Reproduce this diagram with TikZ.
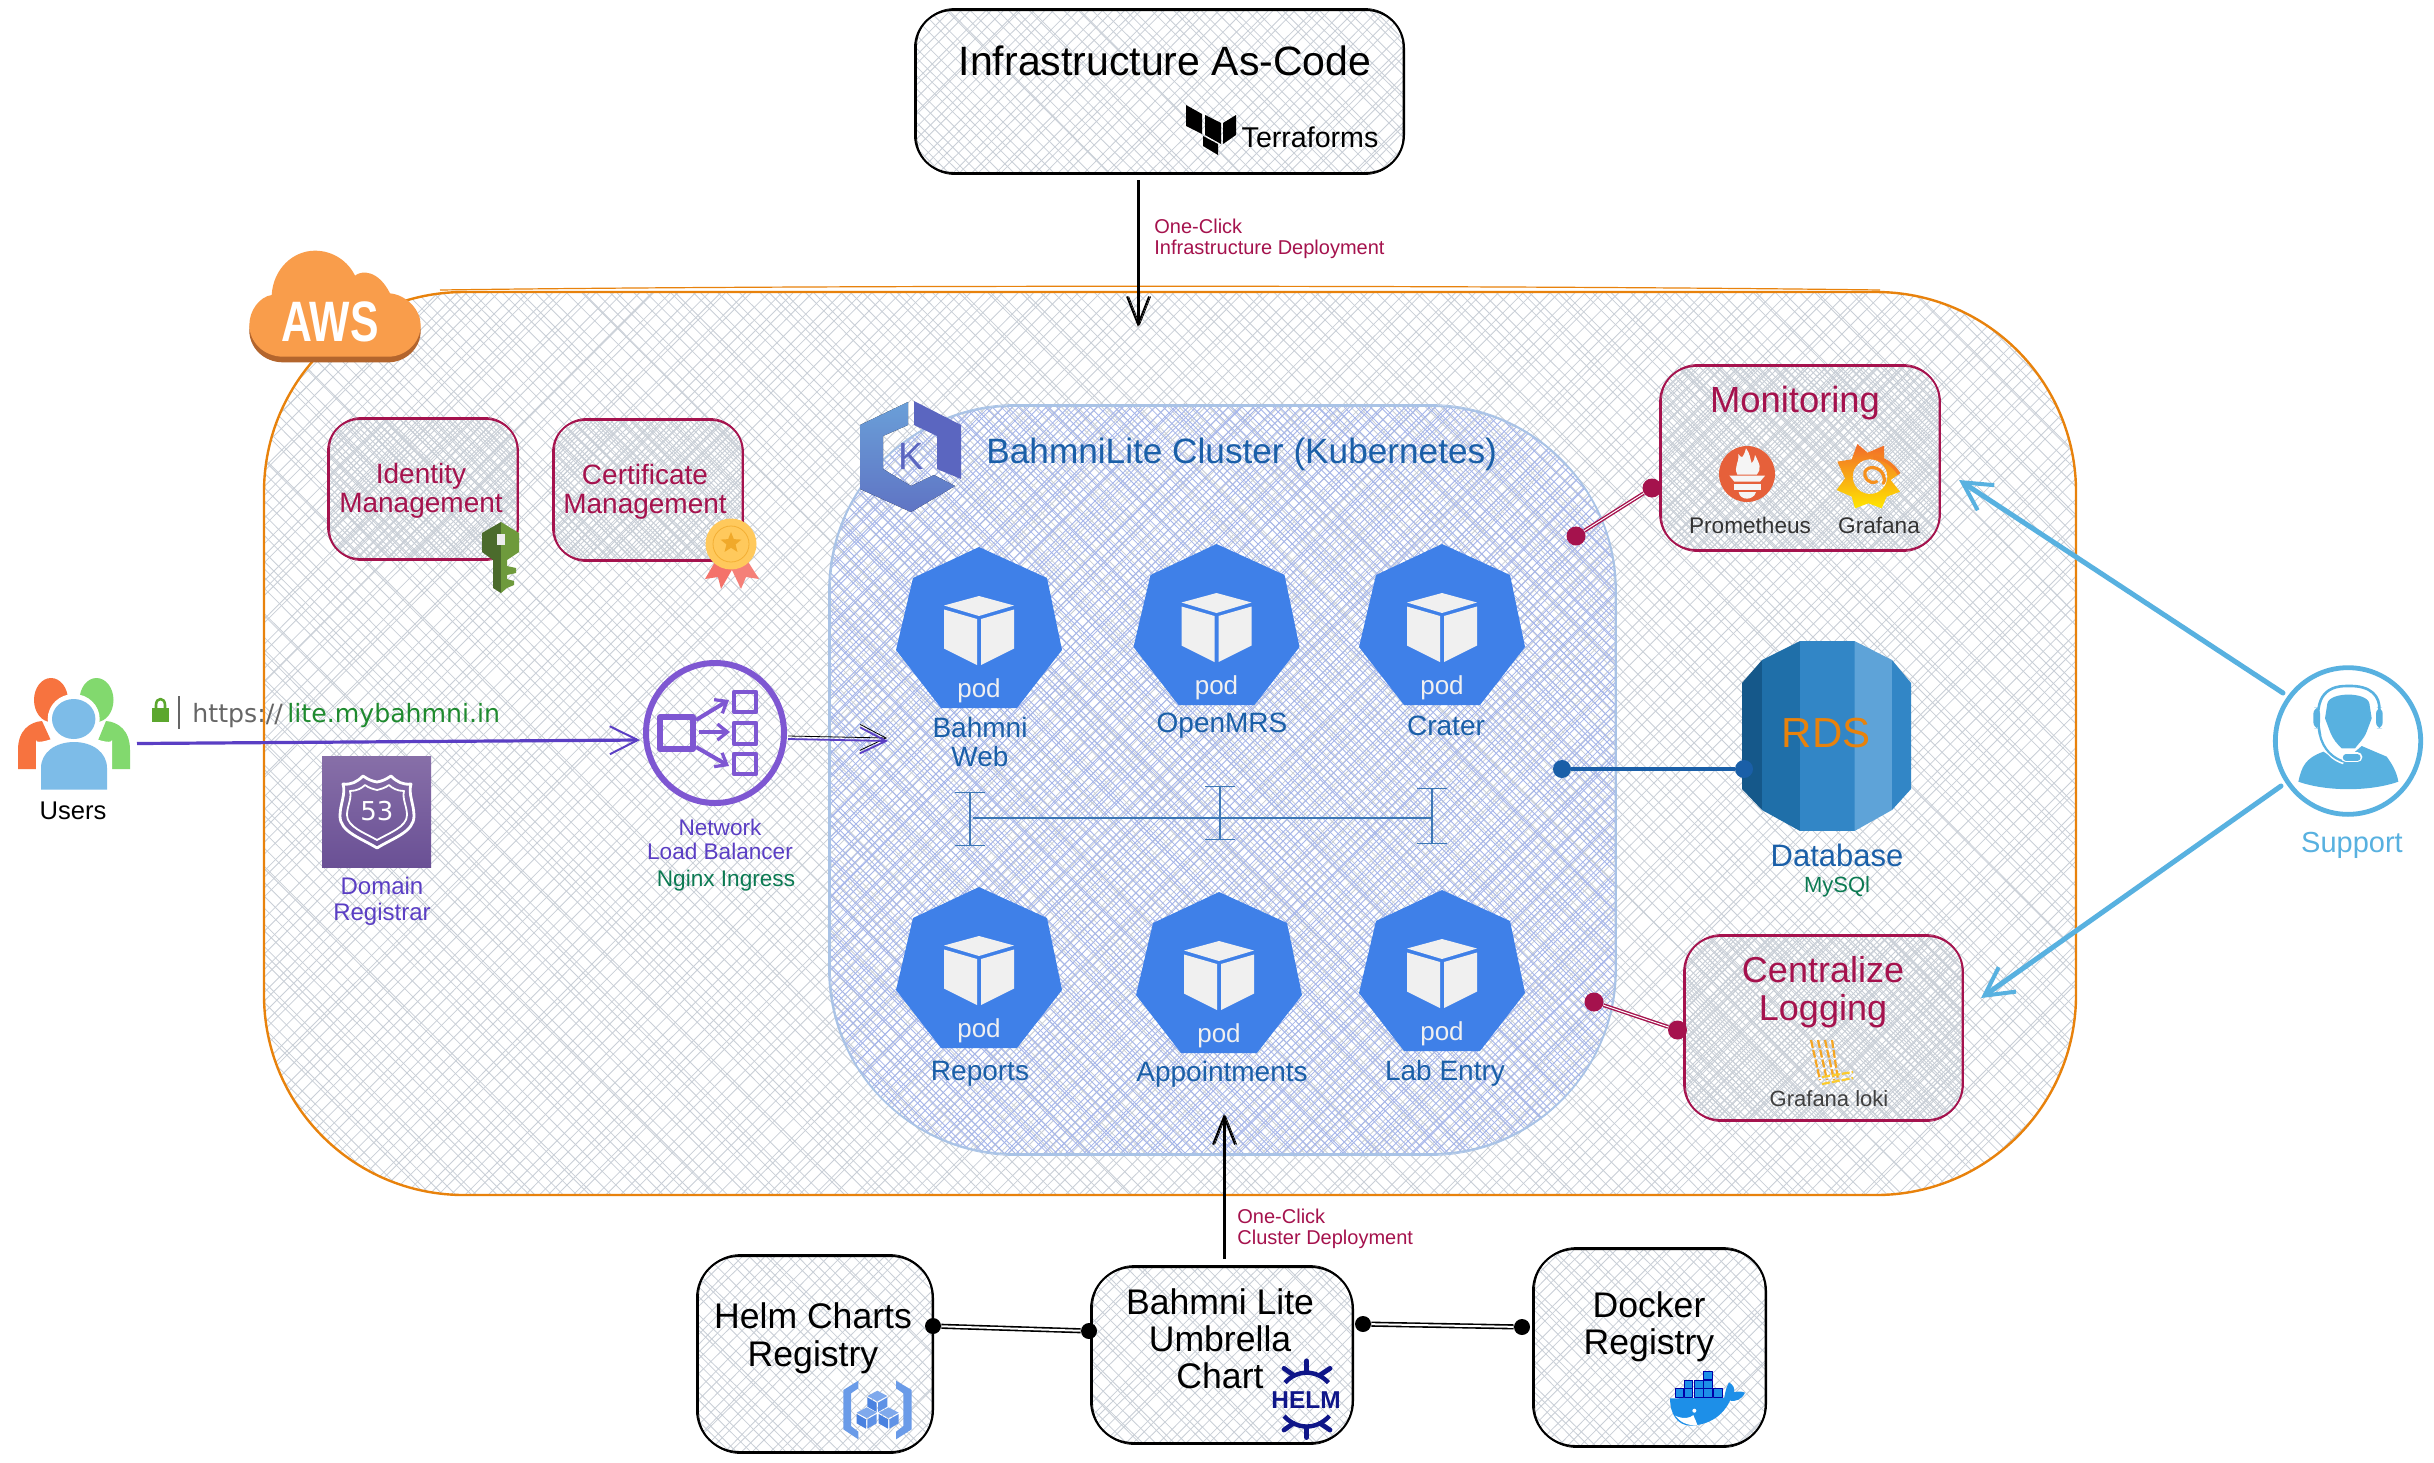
\documentclass[tikz,border=0pt]{standalone}
\usepackage{fontspec}
\setmainfont{Liberation Sans}
\newfontfamily\dvu{DejaVu Sans}
\usetikzlibrary{arrows.meta,shapes.geometric}
\definecolor{awsO}{HTML}{E8820C}
\definecolor{redc}{HTML}{A5124D}
\definecolor{bluet}{HTML}{1A5FA8}
\definecolor{purpl}{HTML}{5A3EC4}
\definecolor{nlbp}{HTML}{7E57D2}
\definecolor{greent}{HTML}{0B7A52}
\definecolor{hgray}{HTML}{C9CFD7}
\definecolor{hblue}{HTML}{A6B6EA}
\definecolor{clusb}{HTML}{A9C3E6}
\definecolor{podb}{HTML}{3F80E8}
\definecolor{podw}{HTML}{F0F0F0}
\definecolor{supb}{HTML}{58B1E0}
\definecolor{helmb}{HTML}{0F1689}
\definecolor{dockb}{HTML}{1D8FE8}
\definecolor{userso}{HTML}{F7733F}
\definecolor{usersg}{HTML}{82D96E}
\definecolor{usersb}{HTML}{7DBCE8}
\definecolor{keyd}{HTML}{4B6B2C}
\definecolor{keyl}{HTML}{6E9A3C}
\definecolor{ribba}{HTML}{F4726A}
\definecolor{ribbb}{HTML}{F58078}
\definecolor{medy}{HTML}{FFC95C}
\definecolor{meds}{HTML}{F0A92A}
\definecolor{lockg}{HTML}{5CA72E}
\definecolor{liteg}{HTML}{1E8A2E}
\definecolor{rsa}{HTML}{876FA8}
\definecolor{rsb}{HTML}{6A5095}
\definecolor{ksa}{HTML}{6A9FD8}
\definecolor{ksb}{HTML}{5F74C4}
\definecolor{ksc}{HTML}{5B66C0}
\definecolor{rdsd}{HTML}{15588A}
\definecolor{rdsk}{HTML}{1F6FA9}
\definecolor{cubet}{HTML}{7FA9EC}
\definecolor{cubel}{HTML}{4A82E0}
\definecolor{cuber}{HTML}{5F92E6}
\definecolor{lokia}{HTML}{F5A623}
\definecolor{lokib}{HTML}{FBCB2E}
\tikzset{
 lab/.style 2 args={inner sep=0pt,align=center,font=\fontsize{#1}{#2}\selectfont},
 boxn/.style={inner sep=0pt,outer sep=0pt,rectangle},
 iz/.style={x=0.16667pt,y=-0.16667pt},
 roughk/.style={preaction={draw,transform canvas={xshift=.8pt}}},
 rdot/.style={circle,fill=redc,inner sep=0pt,minimum size=9.5pt},
 kdot/.style={circle,fill=black,inner sep=0pt,minimum size=8pt},
 bdot/.style={circle,fill=bluet,inner sep=0pt,minimum size=9pt},
 kdouble/.style={draw=black,double=white,double distance=1pt,line width=.8pt},
 rdouble/.style={draw=redc,double=white,double distance=.5pt,line width=.7pt},
 supar/.style={draw=supb,line width=2.5pt,line cap=round,-{Straight Barb[length=14pt,width=15pt,line width=2pt]}},
 blackar/.style={draw=black,line width=.9pt,-{Straight Barb[length=14pt,width=11pt]}},
 purpar/.style={draw=purpl,line width=1.6pt,-{Straight Barb[length=14pt,width=14pt,line width=1pt]}},
 ibar/.style={draw=bluet!85,line width=.7pt,{Bar[width=15pt]}-{Bar[width=15pt]}},
}
\newcommand\hatchfill[8]{%
 \begin{scope}
 \clip[rounded corners=#5*0.5pt] (#1,#2) rectangle (#3,#4);
 \pgfmathtruncatemacro\hn{(#3+#4-#1-#2)/#6}
 \foreach \hi in {0,...,\hn}{
  \pgfmathsetmacro\hs{#1+#2+\hi*#6+(rnd-.5)*#6*.5}
  \pgfmathsetmacro\hja{(rnd-.5)*#6}
  \pgfmathsetmacro\hjb{(rnd-.5)*#6}
  \draw[draw=#7,line width=#8] (#1,{\hs-#1+\hja}) -- (#3,{\hs-#3+\hjb});
  \pgfmathsetmacro\hd{#1-#4+\hi*#6+(rnd-.5)*#6*.5}
  \pgfmathsetmacro\hja{(rnd-.5)*#6}
  \pgfmathsetmacro\hjb{(rnd-.5)*#6}
  \draw[draw=#7,line width=#8] (#1,{#1-\hd+\hja}) -- (#3,{#3-\hd+\hjb});
 }
 \end{scope}}
% name x1 y1 x2 y2 r colour lw
\newcommand\roughbox[8]{%
 \pgfmathsetlengthmacro\bw{(#4-#2)*0.5pt}
 \pgfmathsetlengthmacro\bh{(#5-#3)*0.5pt}
 \node[boxn,draw=#7,line width=#8,rounded corners=#6*0.5pt,minimum width=\bw,minimum height=\bh] (#1) at ({(#2+#4)/2},{(#3+#5)/2}) {};
 \draw[draw=#7,line width=.4pt,rounded corners=#6*0.5pt] ({#2+1.5},{#3-1.5}) rectangle ({#4-1},{#5+1.5});
}
\newcommand\podicon[3]{%
 \begin{scope}[shift={(#2,#3)}]
 \fill[podb] (0,0) -- (68,31) -- (83,103) -- (38,161) -- (-38,161) -- (-83,103) -- (-66,31) -- cycle;
 \fill[podw] (0,49) -- (35,58.5) -- (0,69) -- (-35,58.5) -- cycle;
 \fill[podw] (-35,62.5) -- (-2,72) -- (-2,118) -- (-35,101.5) -- cycle;
 \fill[podw] (35,62.5) -- (2,72) -- (2,118) -- (35,101.5) -- cycle;
 \node[lab={13}{15},text=podw] (#1) at (0,144) {pod};
 \end{scope}}
\newcommand\cubeicon[2]{%
 \fill[cubet] (#1,{#2-24}) -- ({#1+30},{#2-8}) -- (#1,{#2+8}) -- ({#1-30},{#2-8}) -- cycle;
 \fill[cubel] ({#1-30},{#2-4}) -- ({#1-2},{#2+12}) -- ({#1-2},{#2+40}) -- ({#1-30},{#2+24}) -- cycle;
 \fill[cuber] ({#1+30},{#2-4}) -- ({#1+2},{#2+12}) -- ({#1+2},{#2+40}) -- ({#1+30},{#2+24}) -- cycle;
}
\begin{document}
\begin{tikzpicture}[x=0.5pt,y=-0.5pt,line join=round]
\useasboundingbox (0,0) rectangle (2434,1462);
\fill[white] (0,0) rectangle (2434,1462);
\pgfmathsetseed{7}
% AWS region
\hatchfill{264}{292}{2076}{1195}{200}{12}{hgray}{.4pt}
\pgfmathsetlengthmacro\bw{906pt}
\pgfmathsetlengthmacro\bh{451.5pt}
\node[boxn,draw=awsO,line width=1.2pt,rounded corners=100pt,minimum width=\bw,minimum height=\bh] (aws) at (1170,743.5) {};
\draw[awsO,line width=.6pt] (440,290) .. controls (800,285) and (1500,285) .. (1880,290);
% cluster
\hatchfill{829}{406}{1616}{1154}{185}{8}{hblue}{.42pt}
\roughbox{cluster}{829}{406}{1616}{1154}{185}{clusb}{.9pt}
% AWS logo
\begin{scope}[shift={(230,230)},iz]
\definecolor{cloudd}{HTML}{B3652D}
\fill[cloudd] (125,212) .. controls (130,132) and (190,79) .. (255,79) .. controls (310,79) and (355,112) .. (375,154) .. controls (395,137) and (445,137) .. (480,207) .. controls (530,212) and (572,257) .. (572,302) .. controls (572,357) and (525,397) .. (475,397) -- (160,397) .. controls (100,397) and (58,352) .. (58,302) .. controls (58,257) and (90,217) .. (125,212) -- cycle;
\definecolor{cloudo}{HTML}{F99D4B}
\fill[cloudo] (125,195) .. controls (130,115) and (190,62) .. (255,62) .. controls (310,62) and (355,95) .. (375,137) .. controls (395,120) and (445,120) .. (480,190) .. controls (530,195) and (572,240) .. (572,285) .. controls (572,340) and (525,380) .. (475,380) -- (160,380) .. controls (100,380) and (58,335) .. (58,285) .. controls (58,240) and (90,200) .. (125,195) -- cycle;
\end{scope}
\node[lab={28.5}{30},text=white] (awsT) at (330,322) {\scalebox{.75}[1]{\bfseries AWS}};
% Infrastructure box
\hatchfill{915}{10}{1404}{173}{38}{11}{hgray}{.4pt}
\roughbox{iac}{915}{10}{1404}{173}{38}{black}{1pt}
\node[lab={20.5}{24}] (iacT) at (1165,61) {Infrastructure As-Code};
\fill (1186,105) -- (1202,114) -- (1202,134) -- (1186,126) -- cycle;
\fill (1205,115) -- (1221,123) -- (1221,144) -- (1205,135) -- cycle;
\fill (1223,123) -- (1236,115) -- (1236,135) -- (1223,144) -- cycle;
\fill (1203,136) -- (1218,144) -- (1218,155) -- (1203,146) -- cycle;
\node[lab={14.3}{17}] (tfT) at (1310,137) {Terraforms};
\coordinate (iacOut) at (1138,180);
\coordinate (iacIn) at (1138,327);
\draw[blackar,roughk] (iacOut) -- (iacIn);
\node[lab={10}{10.8},align=left,text=redc,anchor=west] (oci) at (1154,239) {One-Click\\Infrastructure Deployment};
% Identity and certificate
\hatchfill{328}{419}{518}{559}{32}{6}{hgray}{.45pt}
\roughbox{idm}{328}{419}{518}{559}{32}{redc}{.9pt}
\node[lab={14}{14.7},text=redc] (idmT) at (421,491) {Identity\\Management};
\hatchfill{553}{420}{743}{560}{32}{6}{hgray}{.45pt}
\roughbox{cem}{553}{420}{743}{560}{32}{redc}{.9pt}
\node[lab={14}{14.7},text=redc] (cemT) at (645,492) {Certificate\\Management};
% key
\fill[keyd] (501,522) -- (482,533) -- (482,552) -- (493,560) -- (493,588) -- (501,593) -- cycle;
\fill[keyl] (501,522) -- (519,533) -- (519,552) -- (507,560) -- (507,566) -- (516,568) -- (516,573) -- (507,575) -- (507,579) -- (514,581) -- (514,585) -- (507,588) -- (501,593) -- cycle;
\fill[gray!15] (497,534) rectangle (505,545);
% medal
\fill[ribba] (716,560) -- (705,579) -- (718,577) -- (721,589) -- (733,568) -- cycle;
\fill[ribbb] (747,560) -- (759,579) -- (746,577) -- (741,589) -- (731,568) -- cycle;
\fill[medy] (731,544) circle [radius=25.5];
\draw[meds!80!medy,line width=.4pt] (731,544) circle [radius=18];
\node[star,star points=5,star point ratio=2.3,fill=meds,inner sep=0pt,minimum size=11pt] (medalstar) at (731,543) {};
% users
\fill[userso] (51,700) circle [x radius=17,y radius=22];
\fill[userso] (18,769) -- (18,750) .. controls (18,730) and (30,722) .. (42,721) -- (60,760) -- (60,769) -- cycle;
\fill[usersg] (96.5,700) circle [x radius=17,y radius=22];
\fill[usersg] (130,769) -- (130,750) .. controls (130,730) and (118,722) .. (106,721) -- (90,760) -- (90,769) -- cycle;
\fill[white] (73.7,719) circle [x radius=26,y radius=25];
\fill[white,rounded corners=10pt] (36,800) -- (36,760) .. controls (36,745) and (55,738) .. (74,738) .. controls (92,738) and (112,745) .. (112,760) -- (112,800) -- cycle;
\fill[usersb] (73.7,719) circle [x radius=21.7,y radius=20];
\fill[usersb] (41,789.5) -- (41,768) .. controls (41,752) and (56,742) .. (74,742) .. controls (92,742) and (107,752) .. (107,768) -- (107,789.5) -- cycle;
\node[lab={12.8}{15}] (usersT) at (73,811) {Users};
% url
\fill[lockg] (152,708) rectangle (169,722);
\draw[lockg,line width=1.3pt] (156,708) -- (156,705) .. controls (156,697) and (165,697) .. (165,705) -- (165,708);
\draw[gray!80!black,line width=.8pt] (179,696) -- (179,729);
\node[anchor=west,inner sep=0pt,font=\dvu\fontsize{12.6}{15}\selectfont,text=gray!80!black] (url1) at (192,716) {https://};
\node[anchor=west,inner sep=0pt,font=\dvu\fontsize{12.6}{15}\selectfont,text=liteg] (url2) at (287,716) {lite.mybahmni.in};
\coordinate (usersOut) at (137,743.5);
\coordinate (nlbIn) at (640,740);
\draw[purpar] (usersOut) -- (nlbIn);
% route53
\fill[top color=rsa,bottom color=rsb] (322,756) rectangle (431,867);
\begin{scope}[shift={(377,812)},white]
\draw[line width=1.4pt] (-34,-28) .. controls (-26,-27) and (-20,-30) .. (-14,-36) .. controls (-8,-32) and (-5,-31) .. (0,-30) .. controls (5,-31) and (8,-32) .. (14,-36) .. controls (20,-30) and (26,-27) .. (34,-28) .. controls (31,-18) and (37,-8) .. (37,4) .. controls (37,20) and (16,26) .. (0,36) .. controls (-16,26) and (-37,20) .. (-37,4) .. controls (-37,-8) and (-31,-18) .. (-34,-28) -- cycle;
\draw[line width=.9pt] (-27,-21) .. controls (-20,-21) and (-15,-24) .. (-12,-27) .. controls (-8,-24) and (-4,-23) .. (0,-22) .. controls (4,-23) and (8,-24) .. (12,-27) .. controls (15,-24) and (20,-21) .. (27,-21) .. controls (25,-13) and (30,-6) .. (30,3) .. controls (30,15) and (12,21) .. (0,28) .. controls (-12,21) and (-30,15) .. (-30,3) .. controls (-30,-6) and (-25,-13) .. (-27,-21) -- cycle;
\end{scope}
\node[font=\dvu\fontsize{13}{15}\selectfont,inner sep=0pt,text=white] (r53) at (377,811) {53};
\node[lab={12}{12.8},text=purpl] (domT) at (382,901) {Domain\\ Registrar};
% NLB
\draw[nlbp,line width=3pt] (715,733) circle [x radius=69,y radius=70];
\draw[nlbp,line width=2.6pt] (660,717) rectangle (693,749);
\draw[nlbp,line width=2.2pt] (734,692) rectangle (756,712);
\draw[nlbp,line width=2.2pt] (734,723) rectangle (756,744);
\draw[nlbp,line width=2.2pt] (734,754) rectangle (756,774);
\coordinate (na) at (696,720); \coordinate (nb) at (729,700);
\coordinate (nc) at (699,732); \coordinate (nd) at (730,732);
\coordinate (ne) at (696,747); \coordinate (nf) at (729,766);
\foreach \a/\b in {na/nb,nc/nd,ne/nf} \draw[nlbp,line width=2pt,-{Straight Barb[length=5pt,width=8pt,line width=1.6pt]}] (\a) -- (\b);
\node[lab={11.3}{12},text=purpl] (nlbT) at (720,839) {Network\\Load Balancer};
\node[lab={11.3}{13},text=greent] (nginxT) at (726,881) {Nginx Ingress};
\coordinate (nlbOut) at (788,739);
\coordinate (clusIn) at (888,741);
\draw[purpl,line width=.9pt,-{Straight Barb[length=13pt,width=13pt]},preaction={draw,transform canvas={yshift=1.5pt}}] (nlbOut) -- (clusIn);
% k8s
\fill[top color=ksa,bottom color=ksb] (908,402) -- (908,425) -- (883,436) -- (883,469) -- (911,486) -- (934,475) -- (955,486) -- (911,512) -- (860,489) -- (860,425) -- cycle;
\fill[ksc] (914,401) -- (961,425) -- (961,479) -- (937,469) -- (937,436) -- (914,425) -- cycle;
\node[lab={19}{21},text=ksc] (kT) at (911,456) {K};
\node[lab={17.6}{20},text=bluet,anchor=west] (clusT) at (986,454) {BahmniLite Cluster (Kubernetes)};
% pods
\podicon{p1}{979}{547}
\podicon{p2}{1216.5}{544}
\podicon{p3}{1442}{544}
\podicon{p4}{979}{887}
\podicon{p5}{1219}{892}
\podicon{p6}{1442}{890}
\node[lab={14}{14.6},text=bluet] (l1) at (980,742) {Bahmni\\Web};
\node[lab={14}{16},text=bluet] (l2) at (1222,726) {OpenMRS};
\node[lab={14}{16},text=bluet] (l3) at (1446,726) {Crater};
\node[lab={14}{16},text=bluet] (l4) at (980,1073.5) {Reports};
\node[lab={14}{16},text=bluet] (l5) at (1222,1074.5) {Appointments};
\node[lab={14}{16},text=bluet] (l6) at (1445,1073.5) {Lab Entry};
\coordinate (ia) at (970,792); \coordinate (ib) at (970,846);
\coordinate (ic) at (1220,786); \coordinate (id) at (1220,840);
\coordinate (ie) at (1432,788); \coordinate (ig) at (1432,844);
\coordinate (iha) at (973,818); \coordinate (ihb) at (1433,818);
\draw[ibar] (ia) -- (ib);
\draw[ibar] (ic) -- (id);
\draw[ibar] (ie) -- (ig);
\draw[bluet!85,line width=.7pt] (iha) -- (ihb);
% monitoring
\hatchfill{1660}{366}{1940}{550}{36}{6}{hgray}{.45pt}
\roughbox{mon}{1660}{366}{1940}{550}{36}{redc}{.9pt}
\node[lab={18.2}{20},text=redc] (monT) at (1795,403) {Monitoring};
\begin{scope}[shift={(1700,430)},iz]
\definecolor{promo}{HTML}{E6603A}
\fill[promo] (141,132) circle [radius=84];
\fill[white!92!gray] (112,134) .. controls (100,110) and (118,100) .. (115,72) .. controls (128,90) and (130,80) .. (138,55) .. controls (150,70) and (150,85) .. (155,100) .. controls (160,95) and (165,85) .. (165,75) .. controls (180,105) and (185,115) .. (170,134) -- cycle;
\fill[white!92!gray] (88,137) -- (195,137) -- (180,155) -- (103,155) -- cycle;
\fill[white!92!gray] (102,163) rectangle (182,180);
\fill[white!92!gray] (116,186) -- (168,186) .. controls (165,200) and (150,206) .. (141,206) .. controls (130,206) and (118,200) .. (116,186) -- cycle;
\definecolor{gfa}{HTML}{F26B2A}
\definecolor{gfb}{HTML}{FFE600}
\shade[top color=gfa,bottom color=gfb,even odd rule] (472,42) -- (503,68) -- (552,47) -- (552,85) -- (580,105) -- (597,132) -- (572,150) -- (600,185) -- (560,200) -- (545,235) -- (505,220) -- (465,235) -- (455,200) -- (410,180) -- (435,145) -- (412,95) -- (455,88) -- cycle (510,140) circle [x radius=52,y radius=52];
\draw[gfa!70!gfb,line width=1.6pt,line cap=round] (530,155) .. controls (505,165) and (490,140) .. (495,125) .. controls (505,105) and (540,110) .. (550,135) .. controls (553,145) and (555,150) .. (550,160);
\draw[gfa!85!gfb,line width=1.6pt] (520,82) .. controls (555,85) and (580,105) .. (597,132);
\end{scope}
\node[lab={11.3}{13},text=black!80] (promT) at (1750,525) {Prometheus};
\node[lab={11.3}{13},text=black!80] (grafT) at (1879,525) {Grafana};
% rds
\fill[rdsd] (1742,683) -- (1762,660) -- (1762,810) -- (1742,789) -- cycle;
\fill[rdsk] (1762,660) -- (1800,641) -- (1800,831) -- (1762,810) -- cycle;
\definecolor{rdsm}{HTML}{3286C6}
\definecolor{rdsl}{HTML}{5EA3D8}
\fill[rdsm] (1800,641) rectangle (1854.5,831);
\fill[rdsl] (1854.5,641) -- (1892,660) -- (1892,810) -- (1854.5,831) -- cycle;
\fill[rdsm] (1892,660) -- (1911,683) -- (1911,789) -- (1892,810) -- cycle;
\node[lab={21}{24},text=awsO] (rdsT) at (1826,733) {RDS};
\node[lab={15.5}{18},text=bluet] (dbT) at (1837,855) {Database};
\node[lab={11}{13},text=greent] (myT) at (1837,887) {MySQl};
% logging
\hatchfill{1684}{936}{1963}{1120}{36}{6}{hgray}{.45pt}
\roughbox{logb}{1684}{936}{1963}{1120}{36}{redc}{.9pt}
\node[lab={18}{19.3},text=redc] (logT) at (1823,992) {Centralize\\Logging};
\foreach \xa/\xb in {1811/1820,1818/1827,1825/1834,1832/1838}
 \draw[lokia,line width=1.1pt,dash pattern=on 4pt off 1pt] (\xa,1040) -- (\xb,1080);
\draw[lokib,line width=1.1pt,dash pattern=on 4pt off 1pt] (1822,1084) -- (1853,1078);
\draw[lokib,line width=1.1pt,dash pattern=on 4pt off 1pt] (1822,1077) -- (1853,1072);
\node[lab={11}{13},text=black!75] (lokiT) at (1829,1099) {Grafana loki};
% dots & links
\node[rdot] (d1) at (1576,536) {};
\node[rdot] (d2) at (1652,488) {};
\draw[rdouble] (d1) -- (d2);
\node[bdot] (d3) at (1562,769) {};
\node[bdot] (d4) at (1744,769) {};
\draw[bluet,line width=1.7pt] (d3) -- (d4);
\node[rdot] (d5) at (1594,1002) {};
\node[rdot] (d6) at (1677.5,1030) {};
\draw[rdouble] (d5) -- (d6);
% support
\coordinate (supA) at (2283,693); \coordinate (monIn) at (1959,480);
\coordinate (supB) at (2281,786); \coordinate (logIn) at (1981,998);
\draw[supar] (supA) -- (monIn);
\draw[supar] (supB) -- (logIn);
\begin{scope}[shift={(2270,660)},iz]
\draw[supb,line width=2.4pt] (234,243) circle [x radius=218,y radius=220];
\fill[supb] (85,365) .. controls (95,320) and (105,295) .. (160,275) -- (215,310) -- (275,258) -- (350,290) .. controls (365,310) and (380,335) .. (385,365) .. controls (300,395) and (170,395) .. (85,365) -- cycle;
\fill[supb] (172,130) .. controls (180,95) and (290,95) .. (298,130) -- (305,175) -- (290,215) .. controls (280,240) and (265,250) .. (255,265) -- (215,265) .. controls (200,250) and (190,240) .. (180,215) -- (165,175) -- cycle;
\draw[white,line width=2.6pt] (158,232) .. controls (135,130) and (160,85) .. (235,88) .. controls (300,85) and (325,120) .. (322,150);
\draw[white,line width=2.8pt] (158,232) .. controls (165,270) and (190,295) .. (222,305);
\draw[supb,line width=1.3pt] (150,225) .. controls (130,120) and (160,76) .. (235,78) .. controls (305,76) and (330,110) .. (328,150);
\draw[supb,line width=1.1pt] (150,225) .. controls (160,270) and (190,295) .. (222,305);
\draw[white,line width=5pt,line cap=round] (228,292) -- (262,292);
\draw[supb,line width=3.2pt,line cap=round] (228,292) -- (262,292);
\fill[supb,rounded corners=3pt] (130,143) rectangle (150,205);
\fill[supb,rounded corners=3pt] (318,143) rectangle (338,205);
\end{scope}
\node[lab={14.5}{17},text=supb] (supT) at (2352,845) {Support};
% bottom boxes
\hatchfill{697}{1256}{933}{1452}{42}{11}{hgray}{.4pt}
\roughbox{helmreg}{697}{1256}{933}{1452}{42}{black}{1pt}
\node[lab={17.8}{19},text=black] (helmT) at (813,1338) {Helm Charts\\Registry};
\hatchfill{1091}{1267}{1353}{1443}{42}{11}{hgray}{.4pt}
\roughbox{umb}{1091}{1267}{1353}{1443}{42}{black}{1pt}
\node[lab={17.8}{18.5}] (umbT) at (1220,1339) {Bahmni Lite\\Umbrella\\Chart};
\hatchfill{1533}{1249}{1766}{1446}{42}{11}{hgray}{.4pt}
\roughbox{dock}{1533}{1249}{1766}{1446}{42}{black}{1pt}
\node[lab={17.8}{18.5}] (dockT) at (1649,1327) {Docker\\Registry};
\node[kdot] (k1) at (933,1326) {};
\node[kdot] (k2) at (1089,1331) {};
\draw[kdouble] (k1) -- (k2);
\node[kdot] (k3) at (1363,1324) {};
\node[kdot] (k4) at (1522,1327) {};
\draw[kdouble] (k3) -- (k4);
\coordinate (umbOut) at (1224,1259);
\coordinate (clusBot) at (1224,1114);
\draw[blackar,roughk] (umbOut) -- (clusBot);
\node[lab={10}{10.8},align=left,text=redc,anchor=west] (occ) at (1237,1229) {One-Click\\Cluster Deployment};
% helm icon
\begin{scope}[shift={(1260,1340)},iz,helmb]
\draw[line width=2.2pt] (75,128) .. controls (110,88) and (170,88) .. (205,128);
\draw[line width=2.6pt,line cap=round] (140,95) -- (140,63);
\draw[line width=2.4pt,line cap=round] (100,105) -- (72,85);
\draw[line width=2.4pt,line cap=round] (180,105) -- (210,85);
\draw[line width=2.2pt] (72,228) .. controls (110,270) and (170,270) .. (208,228);
\draw[line width=2.6pt,line cap=round] (140,262) -- (140,292);
\draw[line width=2.4pt,line cap=round] (100,250) -- (72,270);
\draw[line width=2.4pt,line cap=round] (180,250) -- (210,270);
\end{scope}
\node[lab={12.2}{14},text=helmb,font=\bfseries\fontsize{12.2}{14}\selectfont] (helmI) at (1306,1400) {HELM};
% registry icon
\begin{scope}[shift={(840,1370)},iz]
\definecolor{regb}{HTML}{6A9BE8}
\fill[regb] (10,60) -- (55,32) -- (55,55) -- (33,70) -- (33,168) -- (55,185) -- (55,208) -- (10,178) -- cycle;
\fill[regb] (215,60) -- (168,32) -- (168,55) -- (190,70) -- (190,168) -- (168,185) -- (168,208) -- (215,178) -- cycle;
\cubeicon{112}{86}
\cubeicon{80}{136}
\cubeicon{146}{136}
\end{scope}
% docker icon
\begin{scope}[shift={(1660,1350)},iz]
\fill[dockb] (30,145) -- (193,143) .. controls (195,125) and (200,110) .. (207,97) .. controls (220,105) and (225,115) .. (222,127) .. controls (235,122) and (248,125) .. (255,128) .. controls (245,150) and (225,155) .. (210,152) .. controls (190,195) and (150,225) .. (90,227) .. controls (50,225) and (30,190) .. (30,145) -- cycle;
\fill[white] (45,197) .. controls (70,208) and (90,205) .. (100,195) .. controls (105,210) and (110,215) .. (112,225) .. controls (80,228) and (60,215) .. (45,197) -- cycle;
\fill[white] (103,182) circle [radius=6];
\foreach \xa/\ya in {45/115,72/115,103/115,130/115,160/115,72/90,103/90,130/90,130/63}
 \filldraw[fill=dockb,draw=blue!65!black,line width=.5pt] (\xa,\ya) rectangle ({\xa+26},{\ya+26});
\end{scope}
\end{tikzpicture}
\end{document}
